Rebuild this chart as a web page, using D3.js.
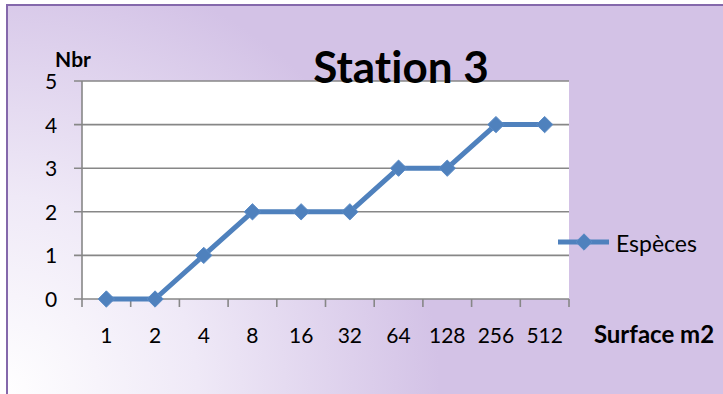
<!DOCTYPE html>
<html><head><meta charset="utf-8">
<script src="https://cdn.jsdelivr.net/npm/d3@7"></script>
<style>html,body{margin:0;padding:0;background:#fff;}svg{display:block;}text{font-variant-ligatures:none;}</style>
</head><body>
<svg id="c" width="723" height="394"></svg>
<script>
const categories = ["1","2","4","8","16","32","64","128","256","512"];
const especes = [0,0,1,2,2,2,3,3,4,4];
const yTicks = [0,1,2,3,4,5];
const seriesName = "Espèces";
const titleText = "Station 3";
const yTitle = "Nbr";
const xTitle = "Surface m2";

const svg = d3.select("#c");
const W = 723, H = 394;
const font = "Lato, 'Open Sans', sans-serif";
const blue = "#4f81bd", grid = "#878787";

const defs = svg.append("defs");
const rg = defs.append("radialGradient").attr("id","bg").attr("gradientUnits","userSpaceOnUse")
  .attr("cx",0).attr("cy",H).attr("r",440);
rg.append("stop").attr("offset","0%").attr("stop-color","#ffffff");
rg.append("stop").attr("offset","45%").attr("stop-color","#efe9f7");
rg.append("stop").attr("offset","100%").attr("stop-color","#d3c2e6");

svg.append("rect").attr("x",7).attr("y",5).attr("width",W).attr("height",H).attr("fill","url(#bg)")
  .attr("stroke","#8468ab").attr("stroke-width",2);

const m = {l:82, r:569, t:81, b:299};
const x = d3.scaleBand().domain(categories).range([m.l, m.r]);
const y = d3.scaleLinear().domain([0,5]).range([m.b, m.t]);

svg.append("rect").attr("x",m.l).attr("y",m.t).attr("width",m.r-m.l).attr("height",m.b-m.t).attr("fill","#fff");

// gridlines
svg.append("g").selectAll("line").data(yTicks).join("line")
  .attr("x1",m.l-8).attr("x2",m.r).attr("y1",d=>y(d)).attr("y2",d=>y(d))
  .attr("stroke",grid).attr("stroke-width",1.6);
// y axis line
svg.append("line").attr("x1",m.l).attr("x2",m.l).attr("y1",m.t).attr("y2",m.b+8)
  .attr("stroke",grid).attr("stroke-width",1.6);
// x tick marks at band boundaries
const bounds = categories.map(c=>x(c)).concat([x.range()[1]]);
svg.append("g").selectAll("line").data(bounds.slice(1)).join("line")
  .attr("x1",d=>d).attr("x2",d=>d).attr("y1",m.b).attr("y2",m.b+8)
  .attr("stroke",grid).attr("stroke-width",1.6);

// y axis labels
const yAxis = d3.axisLeft(y).tickValues(yTicks).tickSize(0).tickPadding(31).tickFormat(d3.format("d"));
const gy = svg.append("g").attr("transform",`translate(${m.l},0)`).call(yAxis);
gy.select(".domain").remove();
gy.selectAll("text").attr("font-family",font).attr("font-size",21).attr("fill","#000")
  .attr("text-anchor","middle").attr("dy","0.36em");

// x axis labels
const xAxis = d3.axisBottom(x).tickSize(0).tickPadding(29);
const gx = svg.append("g").attr("transform",`translate(0,${m.b})`).call(xAxis);
gx.select(".domain").remove();
gx.selectAll("text").attr("font-family",font).attr("font-size",21).attr("fill","#000");

// line
const data = categories.map((c,i)=>({c, v:especes[i]}));
const line = d3.line().x(d=>x(d.c)+x.bandwidth()/2).y(d=>y(d.v));
svg.append("path").datum(data).attr("d",line).attr("fill","none")
  .attr("stroke",blue).attr("stroke-width",5).attr("stroke-linejoin","round");
const diamond = d3.symbol().type(d3.symbolDiamond2).size(170);
svg.append("g").selectAll("path").data(data).join("path")
  .attr("transform",d=>`translate(${x(d.c)+x.bandwidth()/2},${y(d.v)})`)
  .attr("d",diamond).attr("fill",blue).attr("stroke","#5a8bc6").attr("stroke-width",1);

// title
svg.append("text").attr("x",401).attr("y",83).attr("text-anchor","middle")
  .attr("font-family",font).attr("font-weight","bold").attr("font-size",44).attr("fill","#000").text(titleText);
svg.append("text").attr("x",73).attr("y",67).attr("text-anchor","middle")
  .attr("font-family",font).attr("font-weight","bold").attr("font-size",21).attr("fill","#000").text(yTitle);
svg.append("text").attr("x",654).attr("y",343).attr("text-anchor","middle")
  .attr("font-family",font).attr("font-weight","bold").attr("font-size",24).attr("fill","#000").text(xTitle);

// legend
const lg = svg.append("g");
lg.append("line").attr("x1",558).attr("x2",609).attr("y1",242).attr("y2",242).attr("stroke",blue).attr("stroke-width",5);
lg.append("path").attr("transform","translate(584,242)").attr("d",diamond).attr("fill",blue).attr("stroke","#5a8bc6");
lg.append("text").attr("x",616).attr("y",252).attr("font-family",font).attr("font-size",23).attr("fill","#000").text(seriesName);
</script>
</body></html>
